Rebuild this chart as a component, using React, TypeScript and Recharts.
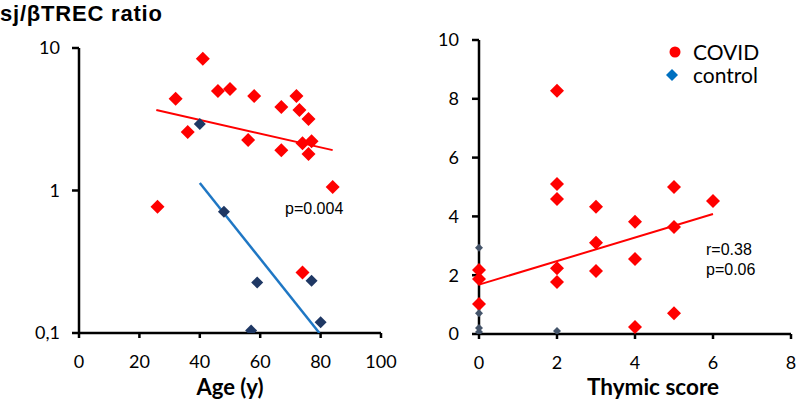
import { ScatterChart, Scatter, XAxis, YAxis } from 'recharts';

// left panel: ratio vs age (log y)
const ageTicks = [0, 20, 40, 60, 80, 100];
const ratioTicks = [0.1, 1, 10];
const covidAge = [
  { x: 26, y: 0.77 }, { x: 32, y: 4.4 }, { x: 36, y: 2.57 }, { x: 41, y: 8.4 },
  { x: 46, y: 5.0 }, { x: 50, y: 5.15 }, { x: 56, y: 2.26 }, { x: 58, y: 4.6 },
  { x: 67, y: 3.85 }, { x: 67, y: 1.92 }, { x: 72, y: 4.6 }, { x: 73, y: 3.67 },
  { x: 74, y: 2.15 }, { x: 74, y: 0.266 }, { x: 76, y: 3.18 }, { x: 76, y: 1.8 },
  { x: 77, y: 2.22 }, { x: 84, y: 1.06 },
];
const controlAge = [
  { x: 40, y: 2.93 }, { x: 48, y: 0.71 }, { x: 57, y: 0.104 },
  { x: 59, y: 0.226 }, { x: 77, y: 0.233 }, { x: 80, y: 0.119 },
];
const covidAgeFit = [{ x: 25.6, y: 3.67 }, { x: 84, y: 1.92 }];
const controlAgeFit = [{ x: 40, y: 1.13 }, { x: 79.6, y: 0.1 }];

// right panel: ratio vs thymic score
const scoreTicks = [0, 2, 4, 6, 8];
const linearTicks = [0, 2, 4, 6, 8, 10];
const covidScore = [
  { x: 0, y: 2.18 }, { x: 0, y: 1.87 }, { x: 0, y: 1.02 },
  { x: 2, y: 8.27 }, { x: 2, y: 5.1 }, { x: 2, y: 4.59 }, { x: 2, y: 2.24 }, { x: 2, y: 1.77 },
  { x: 3, y: 4.33 }, { x: 3, y: 3.1 }, { x: 3, y: 2.14 },
  { x: 4, y: 3.82 }, { x: 4, y: 2.55 }, { x: 4, y: 0.24 },
  { x: 5, y: 5.0 }, { x: 5, y: 3.64 }, { x: 5, y: 0.71 },
  { x: 6, y: 4.52 },
];
const controlScore = [
  { x: 0, y: 2.93 }, { x: 0, y: 0.71 }, { x: 0, y: 0.2 }, { x: 0, y: 0.07 }, { x: 2, y: 0.1 },
];
const covidScoreFit = [{ x: 0, y: 1.68 }, { x: 6, y: 4.08 }];

const RED = '#ff0000';
const tickFont = { fontFamily: 'Lato', fontSize: 18, fill: '#000' };
const axisStroke = { stroke: '#000', strokeWidth: 2.5 };

const diamond = (r: number, fill: string) => (props: any) => {
  const { cx, cy } = props;
  if (cx == null || cy == null) return <g />;
  return <path d={`M${cx},${cy - r}L${cx + r},${cy}L${cx},${cy + r}L${cx - r},${cy}Z`} fill={fill} />;
};
const noDot = () => <g />;

const fmtRatio = (v: number) => (v === 0.1 ? '0,1' : String(v));

export default function App() {
  return (
    <div style={{ position: 'absolute', left: 0, top: 0, width: 800, height: 402, background: '#fff' }}>
      <div style={{ position: 'absolute', left: 0, top: 0 }}>
        <ScatterChart width={400} height={402} margin={{ top: 48, right: 19, bottom: 9, left: 0 }}>
          <XAxis type="number" dataKey="x" domain={[0, 100]} ticks={ageTicks} height={60}
            axisLine={axisStroke} tickLine={axisStroke}
            tickSize={5} tickMargin={17} tick={tickFont} />
          <YAxis type="number" dataKey="y" scale="log" domain={[0.1, 10]} ticks={ratioTicks} allowDataOverflow
            width={79} tickFormatter={fmtRatio}
            axisLine={axisStroke} tickLine={axisStroke}
            tickSize={7} tickMargin={12} tick={tickFont} />
          <Scatter data={covidAgeFit} line={{ stroke: RED, strokeWidth: 2 }} shape={noDot} isAnimationActive={false} />
          <Scatter data={controlAgeFit} line={{ stroke: '#1f77c4', strokeWidth: 2.5 }} shape={noDot} isAnimationActive={false} />
          <Scatter data={covidAge} shape={diamond(7, RED)} isAnimationActive={false} />
          <Scatter data={controlAge} shape={diamond(6, '#1f3864')} isAnimationActive={false} />
        </ScatterChart>
      </div>
      <div style={{ position: 'absolute', left: 400, top: 0 }}>
        <ScatterChart width={400} height={402} margin={{ top: 40, right: 9, bottom: 8, left: 0 }}>
          <XAxis type="number" dataKey="x" domain={[0, 8]} ticks={scoreTicks} height={60}
            axisLine={axisStroke} tickLine={axisStroke}
            tickSize={5} tickMargin={17} tick={tickFont} />
          <YAxis type="number" dataKey="y" domain={[0, 10]} ticks={linearTicks} allowDataOverflow width={79}
            axisLine={axisStroke} tickLine={axisStroke}
            tickSize={7} tickMargin={13} tick={tickFont} />
          <Scatter data={covidScoreFit} line={{ stroke: RED, strokeWidth: 2 }} shape={noDot} isAnimationActive={false} />
          <Scatter data={covidScore} shape={diamond(7, RED)} isAnimationActive={false} />
          <Scatter data={controlScore} shape={diamond(4, '#44546a')} isAnimationActive={false} />
        </ScatterChart>
      </div>

      {/* titles and notes */}
      <div style={{ position: 'absolute', left: 0, top: 1, fontFamily: 'Liberation Sans', fontWeight: 'bold', fontSize: 22, letterSpacing: 0.8, whiteSpace: 'nowrap' }}>
        sj/βTREC ratio
      </div>
      <div style={{ position: 'absolute', left: 130, width: 200, top: 373, textAlign: 'center', fontFamily: 'Lato', fontWeight: 'bold', fontSize: 22 }}>
        Age (y)
      </div>
      <div style={{ position: 'absolute', left: 553, width: 200, top: 373, textAlign: 'center', fontFamily: 'Lato', fontWeight: 'bold', fontSize: 22.5 }}>
        Thymic score
      </div>
      <div style={{ position: 'absolute', left: 285, top: 199, fontFamily: 'Liberation Sans', fontSize: 16, lineHeight: '20px' }}>
        p=0.004
      </div>
      <div style={{ position: 'absolute', left: 706, top: 240, fontFamily: 'Liberation Sans', fontSize: 16, lineHeight: '20px' }}>
        r=0.38<br />p=0.06
      </div>

      {/* legend */}
      <div style={{ position: 'absolute', left: 665, top: 40, fontFamily: 'Lato', fontSize: 21, lineHeight: '23px' }}>
        <div style={{ display: 'flex', alignItems: 'center' }}>
          <svg width={28} height={23}><circle cx={10} cy={12} r={5.5} fill={RED} /></svg>
          <span>COVID</span>
        </div>
        <div style={{ display: 'flex', alignItems: 'center' }}>
          <svg width={28} height={23}><path d="M7,6L13,12L7,18L1,12Z" fill="#0070c0" /></svg>
          <span>control</span>
        </div>
      </div>
    </div>
  );
}
